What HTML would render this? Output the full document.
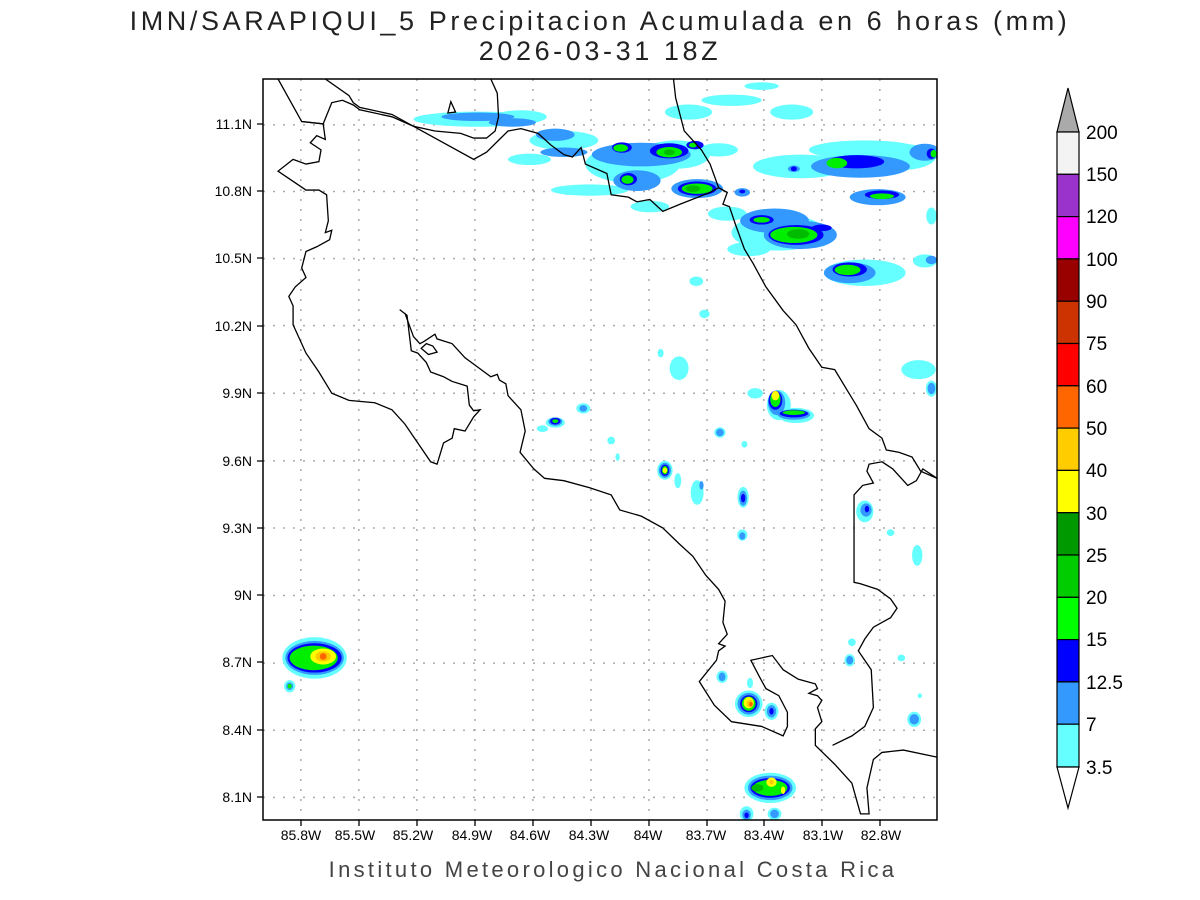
<!DOCTYPE html>
<html><head><meta charset="utf-8"><style>
html,body{margin:0;padding:0;background:#fff;}
svg{display:block;}
</style></head><body>
<svg width="1200" height="900" xmlns="http://www.w3.org/2000/svg" font-family="Liberation Sans, sans-serif">
<rect width="1200" height="900" fill="#fff"/>
<text x="600" y="30" font-size="27" text-anchor="middle" fill="#222" letter-spacing="3.6">IMN/SARAPIQUI_5 Precipitacion Acumulada en 6 horas (mm)</text>
<text x="600" y="60" font-size="27" text-anchor="middle" fill="#222" letter-spacing="3.6">2026-03-31 18Z</text>
<text x="613" y="877" font-size="22" text-anchor="middle" fill="#444" letter-spacing="3.3">Instituto Meteorologico Nacional Costa Rica</text>

<svg x="263" y="79" width="674" height="741" viewBox="0 0 1568 1568" preserveAspectRatio="none">
<g stroke="#aaa" stroke-width="1.5" stroke-dasharray="2 8">
<path vector-effect="non-scaling-stroke" d="M88,0V1568M223,0V1568M358,0V1568M493,0V1568M628,0V1568M763,0V1568M898,0V1568M1033,0V1568M1165,0V1568M1300,0V1568M1435,0V1568M0,97H1568M0,238H1568M0,380H1568M0,522H1568M0,665H1568M0,808H1568M0,950H1568M0,1093H1568M0,1236H1568M0,1378H1568M0,1520H1568"/>
</g>
<g fill="#66ffff">
<ellipse cx="500" cy="85" rx="150" ry="16"/><ellipse cx="600" cy="80" rx="60" ry="14"/><ellipse cx="700" cy="130" rx="80" ry="20"/>
<ellipse cx="620" cy="170" rx="50" ry="12"/><ellipse cx="760" cy="235" rx="90" ry="12"/><ellipse cx="900" cy="270" rx="45" ry="12"/>
<ellipse cx="860" cy="180" rx="110" ry="40"/><ellipse cx="960" cy="160" rx="80" ry="30"/><ellipse cx="990" cy="70" rx="55" ry="16"/><ellipse cx="1090" cy="45" rx="70" ry="12"/>
<ellipse cx="1230" cy="70" rx="50" ry="16"/><ellipse cx="1160" cy="15" rx="40" ry="8"/><ellipse cx="1060" cy="150" rx="45" ry="14"/>
<ellipse cx="1080" cy="285" rx="45" ry="15"/><ellipse cx="1250" cy="185" rx="110" ry="25"/><ellipse cx="1400" cy="150" rx="130" ry="20"/>
<ellipse cx="1480" cy="165" rx="85" ry="28"/><ellipse cx="1200" cy="325" rx="110" ry="38"/><ellipse cx="1130" cy="360" rx="50" ry="15"/><ellipse cx="1400" cy="410" rx="95" ry="28"/>
<ellipse cx="1540" cy="385" rx="28" ry="14"/><ellipse cx="1555" cy="290" rx="12" ry="18"/><ellipse cx="1008" cy="428" rx="16" ry="10"/>
<ellipse cx="1027" cy="497" rx="12" ry="9"/><ellipse cx="968" cy="612" rx="22" ry="25"/><ellipse cx="925" cy="580" rx="7" ry="9"/><ellipse cx="1525" cy="615" rx="40" ry="20"/><ellipse cx="1555" cy="655" rx="13" ry="17"/>
<ellipse cx="1200" cy="690" rx="28" ry="32"/><ellipse cx="1240" cy="712" rx="42" ry="16"/><ellipse cx="1145" cy="665" rx="18" ry="11"/>
<ellipse cx="680" cy="727" rx="22" ry="11"/><ellipse cx="650" cy="740" rx="13" ry="7"/><ellipse cx="745" cy="697" rx="16" ry="11"/>
<ellipse cx="935" cy="828" rx="18" ry="20"/><ellipse cx="965" cy="850" rx="8" ry="16"/><ellipse cx="1010" cy="875" rx="15" ry="26"/>
<ellipse cx="1117" cy="885" rx="13" ry="22"/><ellipse cx="1400" cy="915" rx="20" ry="23"/><ellipse cx="1063" cy="748" rx="13" ry="11"/>
<ellipse cx="810" cy="765" rx="9" ry="8"/><ellipse cx="825" cy="800" rx="5" ry="8"/><ellipse cx="1120" cy="773" rx="7" ry="7"/>
<ellipse cx="1115" cy="965" rx="12" ry="12"/><ellipse cx="1460" cy="960" rx="9" ry="7"/><ellipse cx="1522" cy="1008" rx="12" ry="22"/>
<ellipse cx="120" cy="1225" rx="75" ry="44"/><ellipse cx="62" cy="1285" rx="13" ry="13"/>
<ellipse cx="1068" cy="1265" rx="13" ry="13"/><ellipse cx="1133" cy="1278" rx="7" ry="11"/><ellipse cx="1370" cy="1192" rx="9" ry="8"/>
<ellipse cx="1365" cy="1230" rx="12" ry="13"/><ellipse cx="1485" cy="1225" rx="9" ry="7"/><ellipse cx="1515" cy="1355" rx="16" ry="16"/><ellipse cx="1528" cy="1305" rx="5" ry="5"/>
<ellipse cx="1130" cy="1322" rx="32" ry="28"/><ellipse cx="1183" cy="1338" rx="16" ry="18"/>
<ellipse cx="1180" cy="1500" rx="60" ry="32"/><ellipse cx="1125" cy="1555" rx="16" ry="16"/><ellipse cx="1190" cy="1555" rx="16" ry="13"/>
</g>
<g fill="#3399ff">
<ellipse cx="500" cy="80" rx="85" ry="9"/><ellipse cx="580" cy="92" rx="55" ry="9"/><ellipse cx="680" cy="118" rx="45" ry="13"/><ellipse cx="700" cy="155" rx="55" ry="10"/>
<ellipse cx="880" cy="160" rx="115" ry="25"/><ellipse cx="870" cy="215" rx="55" ry="22"/><ellipse cx="1010" cy="232" rx="60" ry="20"/>
<ellipse cx="1190" cy="300" rx="80" ry="26"/><ellipse cx="1250" cy="330" rx="85" ry="30"/><ellipse cx="1390" cy="185" rx="115" ry="24"/>
<ellipse cx="1430" cy="250" rx="65" ry="17"/><ellipse cx="1365" cy="410" rx="60" ry="22"/><ellipse cx="1540" cy="155" rx="36" ry="18"/>
<ellipse cx="1115" cy="240" rx="18" ry="9"/><ellipse cx="1235" cy="190" rx="14" ry="7"/><ellipse cx="1555" cy="383" rx="13" ry="9"/><ellipse cx="1555" cy="655" rx="9" ry="12"/>
<ellipse cx="1195" cy="685" rx="20" ry="26"/><ellipse cx="1235" cy="710" rx="38" ry="11"/><ellipse cx="680" cy="725" rx="16" ry="9"/><ellipse cx="745" cy="697" rx="9" ry="7"/>
<ellipse cx="935" cy="828" rx="14" ry="16"/><ellipse cx="1063" cy="748" rx="9" ry="8"/><ellipse cx="1117" cy="887" rx="9" ry="16"/><ellipse cx="1403" cy="912" rx="13" ry="14"/>
<ellipse cx="1115" cy="967" rx="7" ry="8"/><ellipse cx="120" cy="1225" rx="68" ry="36"/><ellipse cx="62" cy="1285" rx="8" ry="8"/>
<ellipse cx="1068" cy="1265" rx="8" ry="9"/><ellipse cx="1365" cy="1230" rx="8" ry="9"/><ellipse cx="1515" cy="1355" rx="11" ry="11"/>
<ellipse cx="1130" cy="1322" rx="26" ry="23"/><ellipse cx="1183" cy="1338" rx="11" ry="13"/><ellipse cx="1180" cy="1500" rx="52" ry="26"/>
<ellipse cx="1125" cy="1557" rx="10" ry="11"/><ellipse cx="1190" cy="1555" rx="10" ry="9"/><ellipse cx="1020" cy="860" rx="5" ry="9"/>
</g>
<g fill="#0000ff">
<ellipse cx="835" cy="145" rx="23" ry="11"/><ellipse cx="945" cy="152" rx="45" ry="16"/><ellipse cx="1005" cy="140" rx="20" ry="9"/>
<ellipse cx="850" cy="212" rx="20" ry="13"/><ellipse cx="1010" cy="232" rx="45" ry="15"/><ellipse cx="1160" cy="298" rx="28" ry="10"/>
<ellipse cx="1240" cy="330" rx="64" ry="21"/><ellipse cx="1300" cy="315" rx="23" ry="7"/><ellipse cx="1380" cy="175" rx="65" ry="14"/><ellipse cx="1440" cy="245" rx="40" ry="9"/>
<ellipse cx="1365" cy="403" rx="40" ry="15"/><ellipse cx="1555" cy="158" rx="11" ry="11"/><ellipse cx="1235" cy="190" rx="7" ry="5"/><ellipse cx="1115" cy="238" rx="7" ry="4"/>
<ellipse cx="1192" cy="680" rx="16" ry="20"/><ellipse cx="1235" cy="708" rx="33" ry="8"/><ellipse cx="680" cy="724" rx="12" ry="7"/>
<ellipse cx="935" cy="828" rx="10" ry="12"/><ellipse cx="1117" cy="887" rx="5" ry="9"/><ellipse cx="1405" cy="910" rx="5" ry="7"/>
<ellipse cx="120" cy="1225" rx="63" ry="31"/><ellipse cx="1130" cy="1322" rx="20" ry="18"/><ellipse cx="1183" cy="1338" rx="5" ry="7"/>
<ellipse cx="1180" cy="1500" rx="46" ry="21"/><ellipse cx="1125" cy="1558" rx="5" ry="6"/>
</g>
<g fill="#00ee00">
<ellipse cx="832" cy="146" rx="17" ry="8"/><ellipse cx="945" cy="155" rx="30" ry="11"/><ellipse cx="1000" cy="140" rx="9" ry="5"/><ellipse cx="848" cy="213" rx="14" ry="9"/>
<ellipse cx="1010" cy="232" rx="36" ry="11"/><ellipse cx="1160" cy="298" rx="19" ry="6"/><ellipse cx="1235" cy="330" rx="55" ry="17"/>
<ellipse cx="1335" cy="178" rx="24" ry="11"/><ellipse cx="1440" cy="248" rx="28" ry="6"/><ellipse cx="1360" cy="404" rx="30" ry="11"/><ellipse cx="1560" cy="158" rx="7" ry="8"/>
<ellipse cx="1192" cy="678" rx="12" ry="16"/><ellipse cx="1235" cy="706" rx="26" ry="5"/><ellipse cx="680" cy="724" rx="7" ry="4"/><ellipse cx="935" cy="828" rx="7" ry="9"/>
<ellipse cx="118" cy="1225" rx="56" ry="26"/><ellipse cx="62" cy="1285" rx="5" ry="5"/><ellipse cx="1130" cy="1322" rx="16" ry="15"/><ellipse cx="1180" cy="1500" rx="40" ry="17"/>
</g>
<g fill="#00bb00">
<ellipse cx="1000" cy="232" rx="17" ry="7"/><ellipse cx="1245" cy="328" rx="26" ry="10"/><ellipse cx="945" cy="155" rx="13" ry="6"/><ellipse cx="1150" cy="1500" rx="14" ry="8"/>
</g>
<g fill="#ffff00">
<ellipse cx="1192" cy="670" rx="9" ry="10"/><ellipse cx="935" cy="828" rx="5" ry="6"/><ellipse cx="140" cy="1222" rx="30" ry="17"/><ellipse cx="1130" cy="1320" rx="12" ry="12"/>
<ellipse cx="1183" cy="1488" rx="12" ry="10"/><ellipse cx="1210" cy="1505" rx="5" ry="8"/>
</g>
<g fill="#ffcc00"><ellipse cx="140" cy="1222" rx="18" ry="11"/><ellipse cx="1133" cy="1322" rx="8" ry="8"/><ellipse cx="1183" cy="1488" rx="5" ry="5"/></g>
<g fill="#ff6600"><ellipse cx="140" cy="1222" rx="8" ry="7"/><ellipse cx="1135" cy="1323" rx="4" ry="5"/></g>

<g fill="none" stroke="#000" stroke-width="1.3">
<path vector-effect="non-scaling-stroke" d="M35,0 L90,90 L140,95 L160,50 L185,45 L210,55 L225,65 L300,80 L350,100 L490,170 L520,155 L570,110 L600,105 L640,115 L670,140 L700,160 L720,165 L740,145 L750,180 L800,200 L810,245 L850,250 L870,260 L900,255 L930,280 L970,265 L1040,240 L1060,230 L1080,240"/>
<path vector-effect="non-scaling-stroke" d="M145,0 L200,35 L210,50 L225,60 L300,75 L350,100 L400,110 L460,115 L490,125 L520,125 L540,110 L548,80 L545,30 L530,0"/>
<path vector-effect="non-scaling-stroke" d="M430,72 L437,48 L448,70 Z"/>
<path vector-effect="non-scaling-stroke" d="M955,0 L960,40 L980,110 L1000,130 L1020,150 L1040,180 L1050,205 L1060,230 L1080,240 L1070,265 L1085,270 L1100,310 L1120,360 L1140,390 L1170,440 L1210,490 L1240,520 L1270,570 L1300,610 L1330,615 L1360,660 L1380,690 L1410,740 L1440,760 L1450,785 L1480,790 L1510,800 L1530,830 L1568,845"/>
<path vector-effect="non-scaling-stroke" d="M90,90 L140,95 L145,128 L125,120 L110,135 L135,150 L130,175 L100,180 L70,170 L35,195 L100,235 L130,235 L148,245 L152,300 L145,325 L160,320 L155,340 L125,355 L100,365 L90,400 L100,420 L75,440 L60,460 L70,480 L70,520 L100,580 L130,620 L160,665 L200,680 L260,685 L300,700 L330,730 L360,770 L390,810 L405,815 L420,770 L440,760 L445,740 L470,745 L490,715 L505,700 L490,702 L480,690 L475,650 L440,640 L420,630 L390,620 L380,600 L360,580 L345,575 L335,500 L318,488"/>
<path vector-effect="non-scaling-stroke" d="M330,495 L350,545 L365,560 L375,555 L400,540 L405,550 L440,560 L470,590 L500,610 L530,630 L545,625 L550,637 L565,645 L570,670 L600,700 L610,745 L598,790 L630,825 L655,845 L700,850 L760,865 L810,880 L830,912 L880,925 L930,950 L970,985 L1000,1010 L1030,1050 L1060,1080 L1075,1105 L1070,1150 L1080,1175 L1060,1195 L1075,1200 L1060,1210 L1055,1230 L1015,1275 L1050,1325 L1090,1360 L1160,1370 L1210,1390 L1220,1370 L1220,1340 L1200,1305 L1170,1290 L1155,1265 L1135,1230 L1185,1220 L1210,1250 L1245,1270 L1285,1280 L1290,1290 L1270,1300 L1290,1305 L1300,1315 L1290,1330 L1300,1360 L1285,1375 L1285,1410 L1330,1450 L1370,1490 L1390,1555 L1410,1555 L1405,1500 L1420,1440 L1440,1425 L1490,1420 L1568,1435"/>
<path vector-effect="non-scaling-stroke" d="M1325,1410 L1370,1390 L1400,1370 L1420,1330 L1415,1250 L1385,1210 L1400,1185 L1420,1160 L1460,1140 L1475,1120 L1460,1100 L1430,1080 L1390,1068 L1375,1065 L1375,880 L1395,860 L1420,855 L1405,830 L1410,815 L1440,810 L1465,825 L1485,845 L1500,860 L1520,850 L1535,825 L1568,845"/>
<path vector-effect="non-scaling-stroke" d="M368,570 L380,560 L395,565 L405,578 L385,583 Z"/>
</g>
</svg>
<rect x="263" y="79" width="674" height="741" fill="none" stroke="#000" stroke-width="1.5"/>
<g stroke="#000" stroke-width="1.3">
<path d="M257,124H263M257,191H263M257,258H263M257,326H263M257,393H263M257,461H263M257,528H263M257,595H263M257,662H263M257,730H263M257,797H263"/>
<path d="M301,820V826M359,820V826M417,820V826M475,820V826M533,820V826M591,820V826M649,820V826M707,820V826M764,820V826M822,820V826M880,820V826"/>
</g>
<g font-size="14" fill="#000" text-anchor="end">
<text x="252" y="129">11.1N</text><text x="252" y="196">10.8N</text><text x="252" y="263">10.5N</text><text x="252" y="331">10.2N</text>
<text x="252" y="398">9.9N</text><text x="252" y="466">9.6N</text><text x="252" y="533">9.3N</text><text x="252" y="600">9N</text>
<text x="252" y="667">8.7N</text><text x="252" y="735">8.4N</text><text x="252" y="802">8.1N</text>
</g>
<g font-size="14" fill="#000" text-anchor="middle">
<text x="301" y="840">85.8W</text><text x="355" y="840">85.5W</text><text x="413" y="840">85.2W</text><text x="472" y="840">84.9W</text>
<text x="530" y="840">84.6W</text><text x="589" y="840">84.3W</text><text x="648" y="840">84W</text><text x="706" y="840">83.7W</text>
<text x="764" y="840">83.4W</text><text x="823" y="840">83.1W</text><text x="881" y="840">82.8W</text>
</g>
<g stroke="#000" stroke-width="1.2">
<polygon points="1057,132 1068,88 1079,132" fill="#aaaaaa"/>
<rect x="1057" y="132" width="22" height="42.3" fill="#f3f3f3"/>
<rect x="1057" y="174.3" width="22" height="42.3" fill="#9933cc"/>
<rect x="1057" y="216.6" width="22" height="42.3" fill="#ff00ff"/>
<rect x="1057" y="258.9" width="22" height="42.3" fill="#990000"/>
<rect x="1057" y="301.2" width="22" height="42.3" fill="#cc3300"/>
<rect x="1057" y="343.5" width="22" height="42.3" fill="#ff0000"/>
<rect x="1057" y="385.8" width="22" height="42.3" fill="#ff6600"/>
<rect x="1057" y="428.1" width="22" height="42.3" fill="#ffcc00"/>
<rect x="1057" y="470.4" width="22" height="42.3" fill="#ffff00"/>
<rect x="1057" y="512.7" width="22" height="42.3" fill="#009900"/>
<rect x="1057" y="555" width="22" height="42.3" fill="#00cc00"/>
<rect x="1057" y="597.3" width="22" height="42.3" fill="#00ff00"/>
<rect x="1057" y="639.6" width="22" height="42.3" fill="#0000ff"/>
<rect x="1057" y="681.9" width="22" height="42.3" fill="#3399ff"/>
<rect x="1057" y="724.2" width="22" height="42.8" fill="#66ffff"/>
<polygon points="1057,767 1068,808 1079,767" fill="#ffffff"/>
</g>
<g font-size="19" fill="#000">
<text x="1086" y="139">200</text><text x="1086" y="181">150</text><text x="1086" y="223">120</text><text x="1086" y="266">100</text>
<text x="1086" y="308">90</text><text x="1086" y="350">75</text><text x="1086" y="393">60</text><text x="1086" y="435">50</text>
<text x="1086" y="477">40</text><text x="1086" y="520">30</text><text x="1086" y="562">25</text><text x="1086" y="604">20</text>
<text x="1086" y="646">15</text><text x="1086" y="689">12.5</text><text x="1086" y="731">7</text><text x="1086" y="774">3.5</text>
</g>
</svg>
</body></html>
